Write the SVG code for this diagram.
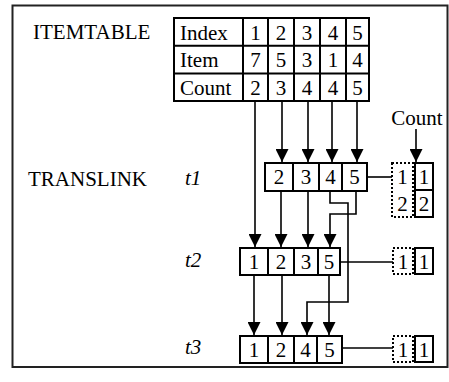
<svg xmlns="http://www.w3.org/2000/svg" width="449" height="382" viewBox="0 0 449 382">
  <style>
    text { font-family: "Liberation Serif", "Times New Roman", serif; font-size: 21px; fill: #000; }
    .c { text-anchor: middle; }
    .it { font-style: italic; }
    .cell { fill: #fff; stroke: #000; stroke-width: 2; }
    .div { stroke: #000; stroke-width: 2; fill: none; }
    .dot { fill: #fff; stroke: #000; stroke-width: 2; stroke-dasharray: 2 2; }
    .arrow { stroke: #000; stroke-width: 1.6; fill: none; marker-end: url(#head); }
    .link { stroke: #000; stroke-width: 1.6; fill: none; }
  </style>
  <defs>
    <marker id="head" markerUnits="userSpaceOnUse" markerWidth="13" markerHeight="13" refX="13" refY="6.5" orient="auto">
      <path d="M0,0 L13,6.5 L0,13 Z" fill="#000"/>
    </marker>
  </defs>

  <!-- outer frame -->
  <rect x="12.5" y="5.5" width="435" height="361.5" fill="#fff" stroke="#222" stroke-width="2"/>

  <!-- row labels -->
  <text x="33" y="39">ITEMTABLE</text>
  <text x="28" y="186">TRANSLINK</text>
  <text x="185" y="185" class="it">t1</text>
  <text x="185" y="267" class="it">t2</text>
  <text x="185" y="354" class="it">t3</text>
  <text x="417" y="125" class="c">Count</text>

  <!-- item table -->
  <g id="itemtable">
    <rect x="174" y="18" width="195" height="83" class="cell"/>
    <path class="div" d="M174,45.7 H369 M174,73.4 H369 M243,18 V101 M268,18 V101 M294,18 V101 M320,18 V101 M346,18 V101"/>
    <text x="180" y="39.5">Index</text>
    <text x="180" y="67">Item</text>
    <text x="180" y="95">Count</text>
    <text x="255.5" y="39.5" class="c">1</text>
    <text x="281" y="39.5" class="c">2</text>
    <text x="307" y="39.5" class="c">3</text>
    <text x="333" y="39.5" class="c">4</text>
    <text x="357.5" y="39.5" class="c">5</text>
    <text x="255.5" y="67" class="c">7</text>
    <text x="281" y="67" class="c">5</text>
    <text x="307" y="67" class="c">3</text>
    <text x="333" y="67" class="c">1</text>
    <text x="357.5" y="67" class="c">4</text>
    <text x="255.5" y="95" class="c">2</text>
    <text x="281" y="95" class="c">3</text>
    <text x="307" y="95" class="c">4</text>
    <text x="333" y="95" class="c">4</text>
    <text x="357.5" y="95" class="c">5</text>
  </g>

  <!-- transaction t1 -->
  <g id="t1">
    <rect x="265" y="163" width="102" height="28" class="cell"/>
    <path class="div" d="M293,163 V191 M319,163 V191 M342,163 V191"/>
    <text x="279" y="184" class="c">2</text>
    <text x="306" y="184" class="c">3</text>
    <text x="330.5" y="184" class="c">4</text>
    <text x="354.5" y="184" class="c">5</text>
  </g>
  <g id="t1-count">
    <rect x="392" y="163" width="21" height="54" class="dot"/>
    <rect x="415" y="163" width="18" height="54" class="cell"/>
    <path class="div" d="M415,190 H433"/>
    <text x="402.5" y="184" class="c">1</text>
    <text x="402.5" y="211" class="c">2</text>
    <text x="424" y="184" class="c">1</text>
    <text x="424" y="211" class="c">2</text>
  </g>

  <!-- transaction t2 -->
  <g id="t2">
    <rect x="240" y="248" width="100" height="27" class="cell"/>
    <path class="div" d="M268,248 V275 M294,248 V275 M318,248 V275"/>
    <text x="254" y="269" class="c">1</text>
    <text x="281" y="269" class="c">2</text>
    <text x="306" y="269" class="c">3</text>
    <text x="329" y="269" class="c">5</text>
  </g>
  <g id="t2-count">
    <rect x="393" y="248" width="20" height="26" class="dot"/>
    <rect x="415" y="248" width="18" height="26" class="cell"/>
    <text x="403" y="269" class="c">1</text>
    <text x="424" y="269" class="c">1</text>
  </g>

  <!-- transaction t3 -->
  <g id="t3">
    <rect x="240" y="336" width="102" height="27" class="cell"/>
    <path class="div" d="M268,336 V363 M294,336 V363 M317,336 V363"/>
    <text x="254" y="357" class="c">1</text>
    <text x="281" y="357" class="c">2</text>
    <text x="305.5" y="357" class="c">4</text>
    <text x="329.5" y="357" class="c">5</text>
  </g>
  <g id="t3-count">
    <rect x="393" y="336" width="20" height="26" class="dot"/>
    <rect x="415" y="336" width="18" height="26" class="cell"/>
    <text x="403" y="357" class="c">1</text>
    <text x="424" y="357" class="c">1</text>
  </g>

  <!-- connectors -->
  <g id="connectors">
    <path class="arrow" d="M255,101 V247"/>
    <path class="arrow" d="M282,101 V162"/>
    <path class="arrow" d="M308,101 V162"/>
    <path class="arrow" d="M332,101 V162"/>
    <path class="arrow" d="M357,101 V162"/>
    <path class="arrow" d="M416,129 V162"/>
    <path class="arrow" d="M281,191 V247"/>
    <path class="arrow" d="M308,191 V247"/>
    <path class="arrow" d="M330,191 V203 H348 V302 H307 V335"/>
    <path class="arrow" d="M356,191 V214 H330 V247"/>
    <path class="arrow" d="M254,275 V335"/>
    <path class="arrow" d="M282,275 V335"/>
    <path class="arrow" d="M329,275 V335"/>
    <path class="link" d="M367,177 H392"/>
    <path class="link" d="M340,262 H393"/>
    <path class="link" d="M342,348 H393"/>
  </g>
</svg>
